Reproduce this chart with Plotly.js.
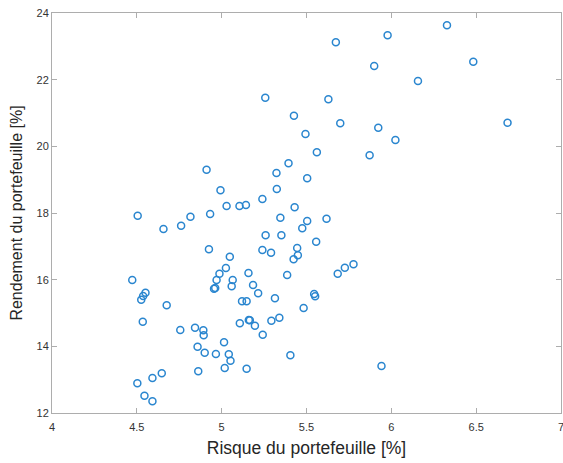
<!DOCTYPE html>
<html>
<head>
<meta charset="utf-8">
<script src="https://cdn.plot.ly/plotly-3.0.1.min.js"></script>
<style>
  html, body { margin: 0; padding: 0; background: #ffffff; }
  #chart { width: 563px; height: 463px; }
</style>
</head>
<body>
<div id="chart"></div>
<script>
// Portfolio risk (%) for each simulated portfolio
const risque = [
  6.328, 5.978, 5.673, 6.483, 5.899, 6.157, 5.257, 5.629, 5.426, 6.685,
  5.699, 5.923, 5.494, 6.024, 5.561, 5.872, 5.394, 4.911, 5.323, 5.504,
  5.325, 4.993, 5.240, 5.029, 5.105, 5.143, 5.430, 4.505, 4.816, 4.932,
  5.346, 5.618, 5.504, 4.761, 4.657, 5.475, 5.259, 5.352, 5.557, 4.925,
  5.240, 5.291, 5.445, 5.449, 5.424, 5.048, 5.777, 5.726, 5.684, 5.386,
  5.025, 4.987, 5.158, 4.473, 4.970, 5.065, 5.059, 5.185, 4.955, 4.962,
  4.551, 4.537, 4.526, 5.215, 5.545, 5.551, 5.314, 4.676, 5.120, 5.147,
  5.483, 4.535, 5.160, 5.166, 5.107, 5.196, 5.293, 5.340, 4.756, 4.843,
  4.892, 4.894, 5.242, 5.014, 4.858, 4.900, 4.966, 5.042, 5.052, 5.405,
  5.942, 5.018, 5.147, 4.862, 4.647, 4.592, 4.503, 4.545, 4.592
];

// Portfolio return (%) for each simulated portfolio
const rendement = [
  23.63, 23.33, 23.12, 22.54, 22.41, 21.96, 21.46, 21.41, 20.92, 20.71,
  20.69, 20.56, 20.37, 20.19, 19.82, 19.73, 19.49, 19.30, 19.20, 19.04,
  18.72, 18.68, 18.42, 18.21, 18.21, 18.24, 18.17, 17.92, 17.89, 17.97,
  17.86, 17.83, 17.76, 17.62, 17.52, 17.54, 17.33, 17.33, 17.14, 16.91,
  16.89, 16.81, 16.95, 16.73, 16.61, 16.69, 16.46, 16.36, 16.18, 16.14,
  16.35, 16.18, 16.20, 15.99, 15.99, 15.99, 15.80, 15.84, 15.73, 15.75,
  15.61, 15.51, 15.40, 15.59, 15.57, 15.50, 15.44, 15.23, 15.35, 15.35,
  15.15, 14.74, 14.79, 14.78, 14.69, 14.62, 14.77, 14.86, 14.49, 14.56,
  14.48, 14.33, 14.35, 14.12, 13.99, 13.81, 13.77, 13.76, 13.57, 13.73,
  13.41, 13.35, 13.33, 13.25, 13.19, 13.05, 12.89, 12.52, 12.35
];

const xTicks = [4, 4.5, 5, 5.5, 6, 6.5, 7];
const yTicks = [12, 14, 16, 18, 20, 22, 24];

const FONT = 'Liberation Sans, Arial, sans-serif';

const trace = {
  x: risque,
  y: rendement,
  type: 'scatter',
  mode: 'markers',
  marker: {
    symbol: 'circle-open',
    size: 7,
    color: '#2a86cf',
    line: { width: 1.5, color: '#2a86cf' }
  },
  hoverinfo: 'x+y'
};

const axisCommon = {
  showgrid: false,
  zeroline: false,
  showline: true,
  linecolor: '#adadad',
  linewidth: 1,
  mirror: 'ticks',
  ticks: 'inside',
  ticklen: 5,
  tickwidth: 1,
  tickcolor: '#adadad',
  tickfont: { family: FONT, size: 11, color: '#333333' }
};

const layout = {
  width: 563,
  height: 463,
  margin: { l: 52, r: 2, t: 13, b: 50 },
  paper_bgcolor: '#ffffff',
  plot_bgcolor: '#ffffff',
  showlegend: false,
  xaxis: Object.assign({}, axisCommon, {
    range: [4, 7],
    tickvals: xTicks,
    ticktext: xTicks.map(String),
    ticklabeloverflow: 'allow',
    ticklabelstandoff: 4,
    title: {
      text: 'Risque du portefeuille [%]',
      font: { family: FONT, size: 17.5, color: '#262626' },
      standoff: 9
    }
  }),
  yaxis: Object.assign({}, axisCommon, {
    range: [12, 24],
    tickvals: yTicks,
    ticktext: yTicks.map(String),
    title: {
      text: 'Rendement du portefeuille [%]',
      font: { family: FONT, size: 16, color: '#262626' },
      standoff: 9
    }
  })
};

Plotly.newPlot('chart', [trace], layout, { displayModeBar: false, staticPlot: true });
</script>
</body>
</html>
